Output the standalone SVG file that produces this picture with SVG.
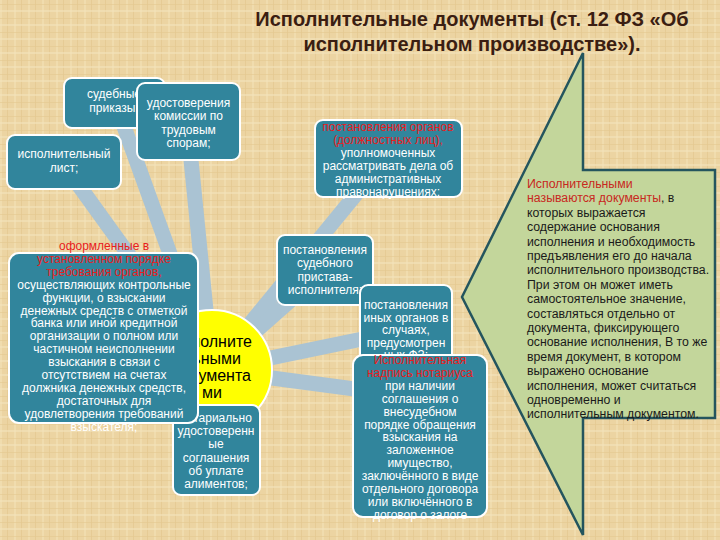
<svg xmlns="http://www.w3.org/2000/svg" width="720" height="540" viewBox="0 0 720 540">
<defs>
<pattern id="weave" width="14" height="14" patternUnits="userSpaceOnUse">
<rect width="14" height="14" fill="#ecd4a2"/>
<rect x="0" y="0" width="2" height="14" fill="#f3e0b4" opacity="0.7"/>
<rect x="7" y="0" width="1" height="14" fill="#e2c48c" opacity="0.6"/>
<rect x="0" y="4" width="14" height="1" fill="#e4c890" opacity="0.6"/>
<rect x="0" y="10" width="14" height="2" fill="#f4e3bb" opacity="0.6"/>
</pattern>
<style>
.box{fill:#31859c;stroke:#ffffff;stroke-width:2}
.t{font-family:"Liberation Sans",Arial,sans-serif;font-size:12px;fill:#ffffff;text-anchor:middle}
.r{fill:#e8201c}
.conn{stroke:#aac3d3;stroke-width:15;stroke-linecap:butt;fill:none}
.c{font-family:"Liberation Sans",Arial,sans-serif;font-size:12.3px;fill:#1a1a1a}
</style>
</defs>
<rect width="720" height="540" fill="url(#weave)"/>
<text x="472" y="26" font-family="'Liberation Sans',Arial,sans-serif" font-size="20" font-weight="bold" fill="#3b1e12" text-anchor="middle">Исполнительные документы (ст. 12 ФЗ «Об</text>
<text x="472" y="51" font-family="'Liberation Sans',Arial,sans-serif" font-size="20" font-weight="bold" fill="#3b1e12" text-anchor="middle">исполнительном производстве»).</text>

<g id="connectors">
<line class="conn" x1="212" y1="370" x2="118" y2="110"/>
<line class="conn" x1="212" y1="370" x2="188" y2="130"/>
<line class="conn" x1="212" y1="370" x2="64" y2="165"/>
<line class="conn" x1="212" y1="370" x2="380" y2="165"/>
<line class="conn" x1="212" y1="370" x2="325" y2="270"/>
<line class="conn" x1="212" y1="370" x2="406" y2="330"/>
<line class="conn" x1="212" y1="370" x2="400" y2="395"/>
<line class="conn" x1="212" y1="370" x2="216" y2="450"/>
<line class="conn" x1="212" y1="370" x2="104" y2="330"/>
</g>

<g id="callout">
<polygon points="583,53 583,170 715,170 715,418 583,418 583,535 462,297" fill="#c3d69b" stroke="#24555e" stroke-width="2.5" stroke-linejoin="miter"/>
<text class="c" x="527" y="188"><tspan fill="#c8281e"> Исполнительными</tspan><tspan x="527" dy="14.4" fill="#c8281e">называются документы</tspan><tspan>, в</tspan><tspan x="527" dy="14.4">которых выражается</tspan><tspan x="527" dy="14.4">содержание основания</tspan><tspan x="527" dy="14.4">исполнения и необходимость</tspan><tspan x="527" dy="14.4">предъявления его до начала</tspan><tspan x="527" dy="14.4">исполнительного производства.</tspan><tspan x="527" dy="14.4">При этом он может иметь</tspan><tspan x="527" dy="14.4">самостоятельное значение,</tspan><tspan x="527" dy="14.4">составляться отдельно от</tspan><tspan x="527" dy="14.4">документа, фиксирующего</tspan><tspan x="527" dy="14.4">основание исполнения, В то же</tspan><tspan x="527" dy="14.4">время документ, в котором</tspan><tspan x="527" dy="14.4">выражено основание</tspan><tspan x="527" dy="14.4">исполнения, может считаться</tspan><tspan x="527" dy="14.4">одновременно и</tspan><tspan x="527" dy="14.4">исполнительным документом.</tspan></text>
</g>

<g id="n-sudebnye">
<rect class="box" x="64" y="78" width="101" height="50" rx="8"/>
<text class="t" x="114" y="98">судебные<tspan x="114" dy="13.5">приказы;</tspan></text>
</g>
<g id="n-udostov">
<rect class="box" x="137" y="83" width="103" height="77" rx="8"/>
<text class="t" x="188.5" y="107">удостоверения<tspan x="188.5" dy="13.3">комиссии по</tspan><tspan x="188.5" dy="13.3">трудовым</tspan><tspan x="188.5" dy="13.3">спорам;</tspan></text>
</g>
<g id="n-list">
<rect class="box" x="7" y="135" width="114" height="54" rx="8"/>
<text class="t" x="64" y="158">исполнительный<tspan x="64" dy="13.5">лист;</tspan></text>
</g>

<g id="n-center">
<circle cx="212" cy="370" r="60" fill="#ffff00" stroke="#ffffff" stroke-width="2"/>
<text x="212" y="347" font-family="'Liberation Sans',Arial,sans-serif" font-size="16" fill="#000000" text-anchor="middle">Исполните<tspan x="212" dy="17">льными</tspan><tspan x="212" dy="17">документа</tspan><tspan x="212" dy="17">ми</tspan></text>
</g>

<g id="n-notar">
<rect class="box" x="173" y="405" width="87" height="90" rx="8"/>
<text class="t" x="216" y="422">нотариально<tspan x="216" dy="13.2">удостоверенн</tspan><tspan x="216" dy="13.2">ые</tspan><tspan x="216" dy="13.2">соглашения</tspan><tspan x="216" dy="13.2">об уплате</tspan><tspan x="216" dy="13.2">алиментов;</tspan></text>
</g>

<g id="n-oformlen">
<rect class="box" x="9" y="253" width="189" height="170" rx="10"/>
<text class="t" x="104" y="250"><tspan class="r">оформленные в</tspan><tspan class="r" x="104" dy="12.9">установленном порядке</tspan><tspan class="r" x="104" dy="12.9">требования органов,</tspan><tspan x="104" dy="12.9">осуществляющих контрольные</tspan><tspan x="104" dy="12.9">функции, о взыскании</tspan><tspan x="104" dy="12.9">денежных средств с отметкой</tspan><tspan x="104" dy="12.9">банка или иной кредитной</tspan><tspan x="104" dy="12.9">организации о полном или</tspan><tspan x="104" dy="12.9">частичном неисполнении</tspan><tspan x="104" dy="12.9">взыскания в связи с</tspan><tspan x="104" dy="12.9">отсутствием на счетах</tspan><tspan x="104" dy="12.9">должника денежных средств,</tspan><tspan x="104" dy="12.9">достаточных для</tspan><tspan x="104" dy="12.9">удовлетворения требований</tspan><tspan x="104" dy="12.9">взыскателя;</tspan></text>
</g>

<g id="n-organov">
<rect class="box" x="315" y="120" width="147" height="77" rx="8"/>
<text class="t" x="388" y="131"><tspan class="r">постановления органов</tspan><tspan class="r" x="388" dy="13">(должностных лиц),</tspan><tspan x="388" dy="13">уполномоченных</tspan><tspan x="388" dy="13">рассматривать дела об</tspan><tspan x="388" dy="13">административных</tspan><tspan x="388" dy="13">правонарушениях;</tspan></text>
</g>

<g id="n-pristav">
<rect class="box" x="277" y="235" width="96" height="70" rx="8"/>
<text class="t" x="325" y="254">постановления<tspan x="325" dy="13.3">судебного</tspan><tspan x="325" dy="13.3">пристава-</tspan><tspan x="325" dy="13.3">исполнителя;</tspan></text>
</g>

<g id="n-inyh">
<rect class="box" x="360" y="285" width="92" height="80" rx="8"/>
<text class="t" x="406" y="309">постановления<tspan x="406" dy="12.6">иных органов в</tspan><tspan x="406" dy="12.6">случаях,</tspan><tspan x="406" dy="12.6">предусмотрен</tspan><tspan x="406" dy="12.6">ных ФЗ;</tspan></text>
</g>

<g id="n-nadpis">
<rect class="box" x="353" y="355" width="134" height="162" rx="10"/>
<text class="t" x="420" y="364"><tspan class="r">Исполнительная</tspan><tspan class="r" x="420" dy="12.9">надпись нотариуса</tspan><tspan x="420" dy="12.9">при наличии</tspan><tspan x="420" dy="12.9">соглашения о</tspan><tspan x="420" dy="12.9">внесудебном</tspan><tspan x="420" dy="12.9">порядке обращения</tspan><tspan x="420" dy="12.9">взыскания на</tspan><tspan x="420" dy="12.9">заложенное</tspan><tspan x="420" dy="12.9">имущество,</tspan><tspan x="420" dy="12.9">заключённого в виде</tspan><tspan x="420" dy="12.9">отдельного договора</tspan><tspan x="420" dy="12.9">или включённого в</tspan><tspan x="420" dy="12.9">договор о залоге</tspan></text>
</g>
</svg>
